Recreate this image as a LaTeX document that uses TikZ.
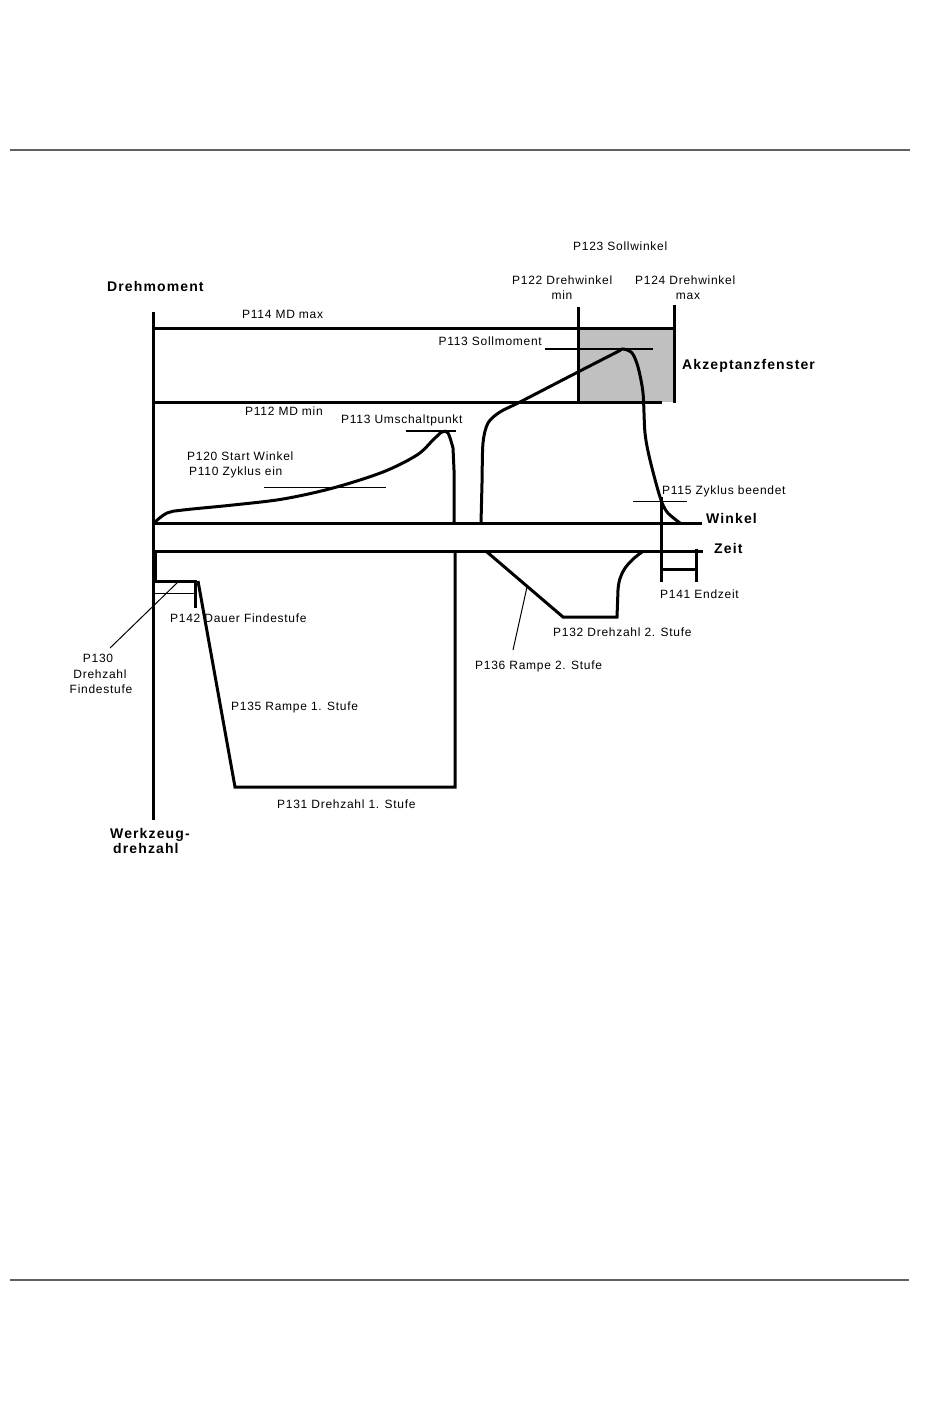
\documentclass[tikz,border=0pt]{standalone}
\usepackage{fontspec}
\newfontfamily\labfam[LetterSpace=6]{Liberation Sans}
\newfontfamily\boldfam[LetterSpace=8]{Liberation Sans}
\definecolor{boxgray}{HTML}{C0C0C0}
\definecolor{rulegray}{HTML}{606060}
\begin{document}
\begin{tikzpicture}[x=1pt,y=-1pt,
  lab/.style={font=\labfam\fontsize{12}{15}\selectfont, inner sep=0pt, anchor=base west},
  labc/.style={lab, anchor=base},
  labr/.style={lab, anchor=base east},
  bl/.style={font=\boldfam\bfseries\fontsize{14}{16}\selectfont, inner sep=0pt, anchor=base west},
  thickline/.style={line width=3pt, line cap=butt, line join=miter},
  midline/.style={line width=2pt},
  thinline/.style={line width=1pt},
  rule/.style={draw=rulegray, line width=1.3pt}]
\useasboundingbox (0,0) rectangle (950,1420);
\fill[white] (0,0) rectangle (950,1420);
% page rules
\draw[rule] (10,150) -- (910,150);
\draw[rule] (10,1280) -- (909,1280);
% acceptance window
\fill[boxgray] (578,328) rectangle (675,402);
% axes and limits
\draw[thickline] (153,312) -- (153,820);
\draw[thickline] (153,328) -- (675,328);
\draw[thickline] (153,402) -- (662,402);
\draw[thickline] (578,307) -- (578,403);
\draw[thickline] (674,305) -- (674,403);
\draw[midline] (545,349) -- (653,349);
\draw[thickline] (153,523) -- (702,523);
\draw[thickline] (153,551) -- (703,551);
\draw[midline] (406,431) -- (456,431);
% torque curve stage 1
\draw[thickline, line cap=round] plot[smooth, tension=0.55] coordinates
  {(155,522) (167,513) (183,510) (233,505) (283,499) (333,488) (383,472) (417,455) (433,440) (442,432) (448,433) (453,448)}
  -- (454,470) -- (454,523);
% torque curve stage 2
\draw[thickline, line cap=round] plot[smooth, tension=0.5] coordinates
  {(481,523) (482,483) (483,443) (488,423) (500,412) (520,402) (578,372) (617,352) (623,349) (632,353) (638,367) (643,393) (645,433) (650,460) (660,497) (667,512) (680,523)};
% end time
\draw[thickline] (661,497) -- (661,582);
\draw[thickline] (696,549) -- (696,582);
\draw[thickline] (661,569) -- (696,569);
% speed stage 1
\draw[line width=4.5pt] (155,551) -- (155,582);
\draw[thickline] (154,581) -- (197,581);
\draw[thickline] (195,581) -- (195,608);
\draw[thickline] (198,581) -- (235,787) -- (455,787) -- (455,551);
% speed stage 2
\draw[thickline] (487,552) -- (563,617) -- (617,617) -- (618,590)
  .. controls (619,572) and (628,562) .. (642,552);
% thin reference lines
\draw[thinline] (264,487) -- (386,487);
\draw[thinline] (633,501) -- (687,501);
\draw[thinline] (155,593) -- (196,593);
\coordinate (l130a) at (178,582);
\coordinate (l130b) at (110,648);
\draw[thinline] (l130a) -- (l130b);
\coordinate (l136a) at (527,587);
\coordinate (l136b) at (513,650);
\draw[thinline] (l136a) -- (l136b);
% labels
\node[bl] (drehmoment) at (107,291) {Drehmoment};
\node[lab] (p114) at (242,318) {P114 MD max};
\node[labr] (p113s) at (542,345) {P113 Sollmoment};
\node[lab] (p123) at (573,251) {P123 Sollwinkel};
\node[lab] (p122) at (512,285) {P122 Drehwinkel};
\node[labc] (p122b) at (562,300) {min};
\node[lab] (p124) at (635,285) {P124 Drehwinkel};
\node[labc] (p124b) at (688,300) {max};
\node[bl] (akz) at (682,369) {Akzeptanzfenster};
\node[lab] (p112) at (245,415) {P112 MD min};
\node[lab] (p113u) at (341,423) {P113 Umschaltpunkt};
\node[lab] (p120) at (187,460) {P120 Start Winkel};
\node[lab] (p110) at (189,475) {P110 Zyklus ein};
\node[lab] (p115) at (662,494) {P115 Zyklus beendet};
\node[bl] (winkel) at (706,523) {Winkel};
\node[bl] (zeit) at (714,553) {Zeit};
\node[lab] (p141) at (660,598) {P141 Endzeit};
\node[lab] (p132) at (553,636) {P132 Drehzahl 2. Stufe};
\node[lab] (p136) at (475,669) {P136 Rampe 2. Stufe};
\node[lab] (p142) at (170,622) {P142 Dauer Findestufe};
\node[labc] (p130a) at (98,662) {P130};
\node[labc] (p130b) at (100,678) {Drehzahl};
\node[labc] (p130c) at (101,693) {Findestufe};
\node[lab] (p135) at (231,710) {P135 Rampe 1. Stufe};
\node[lab] (p131) at (277,808) {P131 Drehzahl 1. Stufe};
\node[bl] (wz1) at (110,838) {Werkzeug-};
\node[bl] (wz2) at (113,853) {drehzahl};
\end{tikzpicture}
\end{document}
